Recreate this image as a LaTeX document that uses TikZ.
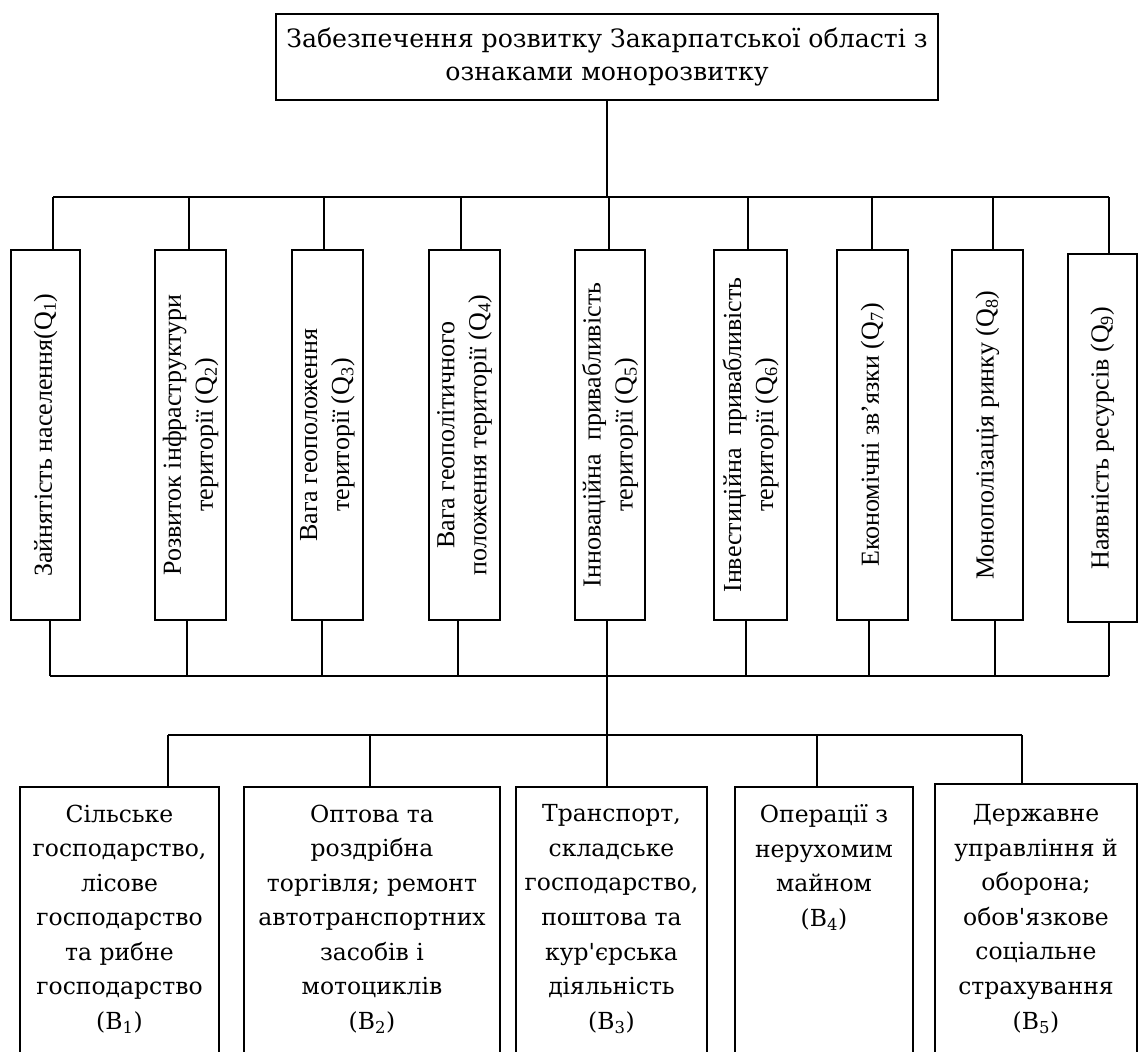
\documentclass[tikz,border=0pt]{standalone}
\usepackage{fontspec}
\setmainfont{Liberation Serif}
\newfontfamily\cambr{DejaVu Serif}
\newdimen\pxu \pxu=0.75pt
\begin{document}
\begin{tikzpicture}[x=0.75pt,y=-0.75pt,
  box/.style={draw, rectangle, inner sep=0pt, line width=1.5pt},
  conn/.style={line width=1.5pt},
  rottext/.style={rotate=90, align=center, inner sep=0pt, font=\fontsize{19.5}{24}\selectfont},
  btext/.style={align=center, anchor=north, inner sep=0pt, font=\cambr\fontsize{17.6}{25.9}\selectfont},
  toptext/.style={align=center, font=\cambr\fontsize{18.9}{24.75}\selectfont}]
\fill[white] (0,0) rectangle (1138,1052);
\useasboundingbox (0,0) rectangle (1138,1052);
\clip (0,0) rectangle (1138,1052);

% top box
\node[box, toptext, minimum width=662*\pxu, minimum height=86*\pxu] (top) at (607,57)
  {Забезпечення розвитку Закарпатської області з\\ознаками монорозвитку};

% factor boxes
\node[box, minimum width=69*\pxu, minimum height=370*\pxu] (q1) at (45.5,435) {};
\node[box, minimum width=71*\pxu, minimum height=370*\pxu] (q2) at (190.5,435) {};
\node[box, minimum width=71*\pxu, minimum height=370*\pxu] (q3) at (327.5,435) {};
\node[box, minimum width=71*\pxu, minimum height=370*\pxu] (q4) at (464.5,435) {};
\node[box, minimum width=70*\pxu, minimum height=370*\pxu] (q5) at (610,435) {};
\node[box, minimum width=73*\pxu, minimum height=370*\pxu] (q6) at (750.5,435) {};
\node[box, minimum width=71*\pxu, minimum height=370*\pxu] (q7) at (872.5,435) {};
\node[box, minimum width=71*\pxu, minimum height=370*\pxu] (q8) at (987.5,435) {};
\node[box, minimum width=69*\pxu, minimum height=368*\pxu] (q9) at (1102.5,438) {};

\node[rottext] (q1t) at (q1.center) {Зайнятість населення(Q\textsubscript{1})};
\node[rottext] (q2t) at (q2.center) {Розвиток інфраструктури\\території (Q\textsubscript{2})};
\node[rottext] (q3t) at (q3.center) {Вага геоположення\\території (Q\textsubscript{3})};
\node[rottext] (q4t) at (q4.center) {Вага геополітичного\\положення території (Q\textsubscript{4})};
\node[rottext] (q5t) at (q5.center) {Інноваційна~ привабливість\\території (Q\textsubscript{5})};
\node[rottext] (q6t) at (q6.center) {Інвестиційна~ привабливість\\території (Q\textsubscript{6})};
\node[rottext] (q7t) at (q7.center) {Економічні зв’язки (Q\textsubscript{7})};
\node[rottext] (q8t) at (q8.center) {Монополізація ринку (Q\textsubscript{8})};
\node[rottext] (q9t) at (q9.center) {Наявність ресурсів (Q\textsubscript{9})};

% sector boxes
\node[box, minimum width=199*\pxu, minimum height=288*\pxu] (b1) at (119.5,931) {};
\node[box, minimum width=256*\pxu, minimum height=288*\pxu] (b2) at (372,931) {};
\node[box, minimum width=191*\pxu, minimum height=288*\pxu] (b3) at (611.5,931) {};
\node[box, minimum width=178*\pxu, minimum height=288*\pxu] (b4) at (824,931) {};
\node[box, minimum width=202*\pxu, minimum height=291*\pxu] (b5) at (1036,929.5) {};

\node[btext] (b1t) at ([yshift=-13.9pt]b1.north) {Сільське\\господарство,\\лісове\\господарство\\та рибне\\господарство\\(B\textsubscript{1})};
\node[btext] (b2t) at ([yshift=-13.9pt]b2.north) {Оптова та\\роздрібна\\торгівля; ремонт\\автотранспортних\\засобів і\\мотоциклів\\(B\textsubscript{2})};
\node[btext] (b3t) at ([yshift=-13.9pt]b3.north) {Транспорт,\\складське\\господарство,\\поштова та\\кур'єрська\\діяльність\\(B\textsubscript{3})};
\node[btext] (b4t) at ([yshift=-13.9pt]b4.north) {Операції з\\нерухомим\\майном\\(B\textsubscript{4})};
\node[btext] (b5t) at ([yshift=-16.1pt]b5.north) {Державне\\управління й\\оборона;\\обов'язкове\\соціальне\\страхування\\(B\textsubscript{5})};

% upper bus
\foreach \i/\x in {1/53,2/189,3/324,4/461,5/609,6/748,7/872,8/993,9/1109}
  \coordinate (u\i) at (\x,197);
\draw[conn] (top.south) -- (top.south |- u1);
\draw[conn] (u1) -- (u9);
\foreach \i in {1,...,9}
  \draw[conn] (u\i) -- (u\i |- q\i.north);

% lower bus
\foreach \i/\x in {1/50,2/187,3/322,4/458,5/607,6/746,7/869,8/995,9/1109}
  \coordinate (d\i) at (\x,676);
\draw[conn] (d1) -- (d9);
\foreach \i in {1,...,9}
  \draw[conn] (q\i.south -| d\i) -- (d\i);

% sector bus
\foreach \i/\x in {1/168,2/370,3/607,4/817,5/1022}
  \coordinate (e\i) at (\x,735);
\draw[conn] (d5) -- (e3);
\draw[conn] (e1) -- (e5);
\foreach \i in {1,...,5}
  \draw[conn] (e\i) -- (e\i |- b\i.north);
\end{tikzpicture}
\end{document}
